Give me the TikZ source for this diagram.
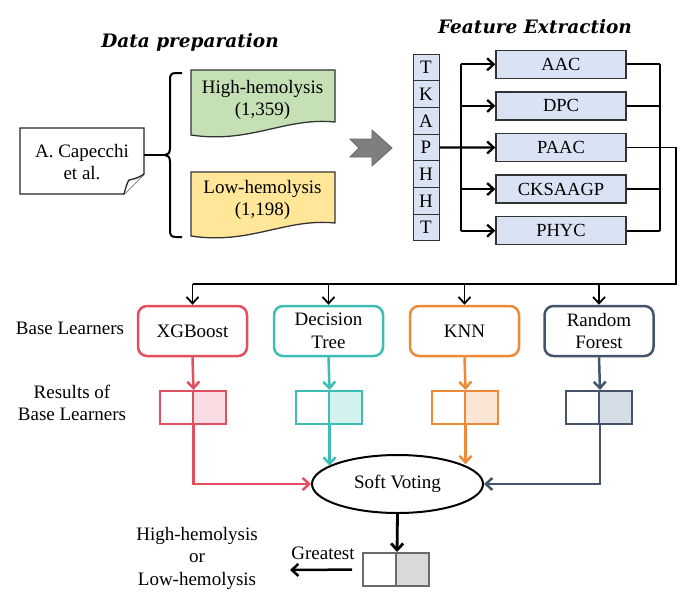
\documentclass[tikz,border=0pt]{standalone}
\usepackage{fontspec}
\setmainfont{Liberation Serif}
\newfontfamily\titlefont{DejaVu Serif}
\usetikzlibrary{arrows.meta,shapes.geometric,calc}
\definecolor{cgreen}{HTML}{C5E0B4}
\definecolor{cyellow}{HTML}{FFE699}
\definecolor{cblue}{HTML}{DAE3F3}
\definecolor{cred}{HTML}{E2505F}
\definecolor{credl}{HTML}{F9DCE1}
\definecolor{cteal}{HTML}{3CBEB4}
\definecolor{cteall}{HTML}{D3F1EE}
\definecolor{corange}{HTML}{EE8A37}
\definecolor{corangel}{HTML}{FCE5D5}
\definecolor{cslate}{HTML}{44546A}
\definecolor{cslatel}{HTML}{D6DCE5}
\definecolor{cgray}{HTML}{7F7F7F}
\definecolor{cfin}{HTML}{6A6A6A}
\definecolor{cfinl}{HTML}{D9D9D9}
\begin{document}
\begin{tikzpicture}[x=1pt,y=-1pt,font=\fontsize{19}{22.5}\selectfont,
  arr/.style={-{Straight Barb[length=6.5pt,width=12pt]}},
  title/.style={font=\titlefont\bfseries\itshape\fontsize{18.5}{22}\selectfont},
  txt/.style={align=center,inner sep=0pt},
  seqcell/.style={draw=black!80,line width=1pt,fill=cblue,minimum width=26pt,minimum height=26.7pt,inner sep=0pt},
  featbox/.style={draw=black!80,line width=1.3pt,fill=cblue,minimum width=130pt,minimum height=28pt,inner sep=0pt,font=\fontsize{18.5}{22}\selectfont},
  learner/.style={draw=#1,line width=2.5pt,rounded corners=9pt,fill=white,minimum width=109pt,minimum height=50pt,align=center,inner sep=0pt},
  rcell/.style={draw=#1,line width=2pt,minimum width=33pt,minimum height=33pt,inner sep=0pt},
  bus/.style={line width=2.3pt,black},
  dist/.style={line width=1.8pt,black}]
\useasboundingbox (0,0) rectangle (690,600);
\fill[white] (0,0) rectangle (690,600);

% titles
\node[title] (t1) at (190,42) {Data preparation};
\node[title] (t2) at (535,27) {Feature Extraction};

% document
\draw[line width=1.3pt,black!85,fill=white] (20,128) -- (144,128) -- (144,174) -- (124,194) -- (20,194) -- cycle;
\draw[line width=1.3pt,black!85,fill=white] (124,194) .. controls (126,187) and (127,183) .. (129,180) .. controls (135,179) and (140,177) .. (144,174);
\node[txt,minimum width=124pt,minimum height=66pt] (doc) at (82,162) {A. Capecchi\\et al.};

% brace
\coordinate (bt) at (165,155);
\draw[line width=2pt] (182,73) -- (176,73) .. controls (171,73) and (170,75) .. (170,80) -- (170,148)
  .. controls (170,153) and (168,155) .. (bt) .. controls (168,155) and (170,157) .. (170,162)
  -- (170,230) .. controls (170,235) and (171,237) .. (176,237) -- (182,237);
\draw[line width=2pt] (144,155) -- (bt);

% data boxes
\draw[line width=1.3pt,black!80,fill=cgreen] (191,70) -- (335,70) -- (335,122) .. controls (285,117) and (250,144) .. (191,135) -- cycle;
\node[txt] (high) at (262.5,100) {High-hemolysis\\(1,359)};
\draw[line width=1.3pt,black!80,fill=cyellow] (191,172) -- (335,172) -- (335,223) .. controls (285,218) and (250,245) .. (191,236) -- cycle;
\node[txt] (low) at (262.5,200) {Low-hemolysis\\(1,198)};

% gray arrow
\draw[line width=0.8pt,draw=black!60,fill=cgray] (350,139) -- (372,139) -- (372,130) -- (392,148) -- (372,166) -- (372,157) -- (350,157) -- (359,148) -- cycle;

% sequence
\foreach \l [count=\i from 0] in {T,K,A,P,H,H,T}{
  \node[seqcell] (s\i) at (426,{54.05+26.7*(\i+0.5)}) {\l};
}

% feature boxes
\node[featbox] (aac) at (561,64.3) {AAC};
\node[featbox] (dpc) at (561,105.9) {DPC};
\node[featbox] (paac) at (561,147.5) {PAAC};
\node[featbox] (cks) at (561,189.1) {CKSAAGP};
\node[featbox] (phyc) at (561,230.7) {PHYC};

\coordinate (lb) at (461,147.5);
\coordinate (rb) at (660,147.5);
\draw[bus,arr] (s3.east) -- (paac.west);
\draw[bus] (lb |- aac.west) -- (lb |- phyc.west);
\foreach \n in {aac,dpc,cks,phyc}{
  \draw[bus,arr] (lb |- \n.west) -- (\n.west);
  \draw[bus] (\n.east) -- (rb |- \n.east);
}
\draw[bus] (rb |- aac.east) -- (rb |- phyc.east);

% learners
\node[learner=cred] (xgb) at (192.5,331) {XGBoost};
\node[learner=cteal] (dt) at (328.5,331) {Decision\\Tree};
\node[learner=corange] (knn) at (464.5,331) {KNN};
\node[learner=cslate] (rf) at (599,331) {Random\\Forest};

\coordinate (dtop) at (676,284);
\draw[dist] (paac.east) -| (dtop) -- (xgb.north |- dtop);
\foreach \n in {xgb,dt,knn,rf}{
  \draw[dist,arr] (\n.north |- dtop) -- (\n.north);
}

\node[txt] (bl) at (70,328) {Base Learners};
\node[txt] (rbl) at (72,403) {Results of\\Base Learners};

% results
\node[rcell=cred,fill=white] (xl) at (176,407.5) {};
\node[rcell=cred,fill=credl] (xr) at (209,407.5) {};
\node[rcell=cteal,fill=white] (dl) at (312,407.5) {};
\node[rcell=cteal,fill=cteall] (dr) at (345,407.5) {};
\node[rcell=corange,fill=white] (kl) at (448,407.5) {};
\node[rcell=corange,fill=corangel] (kr) at (481,407.5) {};
\node[rcell=cslate,fill=white] (rl) at (582.5,407.5) {};
\node[rcell=cslate,fill=cslatel] (rr) at (615.5,407.5) {};

\draw[arr,line width=2.5pt,cred] (xgb.south) -- (xl.north east);
\draw[arr,line width=2.5pt,cteal] (dt.south) -- (dl.north east);
\draw[arr,line width=2.5pt,corange] (knn.south) -- (kl.north east);
\draw[arr,line width=2.5pt,cslate] (rf.south) -- (rl.north east);

% soft voting
\node[ellipse,draw,line width=2pt,minimum width=171pt,minimum height=58pt,inner sep=0pt] (sv) at (397.5,484) {Soft Voting};
\draw[arr,line width=2.5pt,cred] (xl.south east) |- (sv.west);
\draw[arr,line width=2.5pt,cteal] (dl.south east) -- (dl.south east |- sv.165);
\draw[arr,line width=2.5pt,corange] (kl.south east) -- (kl.south east |- sv.17);
\draw[arr,line width=2.5pt,cslate] (rl.south east) |- (sv.east);

% final
\node[rcell=cfin,fill=white] (fl) at (379.5,569.5) {};
\node[rcell=cfin,fill=cfinl] (fr) at (412.5,569.5) {};
\draw[arr,line width=2.8pt] (sv.south) -- (fl.north east);
\node[txt] (gr) at (323,553) {Greatest};
\node[txt] (res) at (197,558) {High-hemolysis\\or\\Low-hemolysis};
\coordinate (gtip) at (290,570);
\draw[arr,line width=2.5pt,shorten <=10pt] (fl.west) -- (gtip);
\end{tikzpicture}
\end{document}
